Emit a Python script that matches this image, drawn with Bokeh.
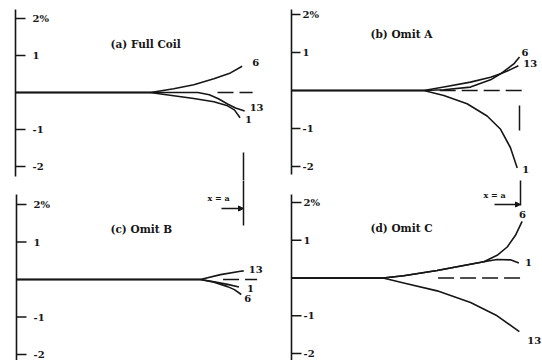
from bokeh.plotting import figure
from bokeh.layouts import column, row
from bokeh.models import Range1d, Arrow, NormalHead
from bokeh.core.properties import value
from bokeh.embed import file_html
from bokeh.resources import INLINE

# ---------------- data (x = position / a, y = error in %) ----------------
tick_values = [2, 1, -1, -2]
tick_labels = ["2%", "1", "-1", "-2"]
panel_titles = ["(a)  Full Coil", "(b)  Omit A", "(c)  Omit B", "(d)  Omit C"]
curve_names = ["1", "6", "13"]

# (a) Full Coil
a_x_1 = [0, 0.59, 0.694, 0.782, 0.870, 0.93, 0.96, 0.985]
a_y_1 = [0, 0, -0.09, -0.16, -0.25, -0.36, -0.47, -0.68]
a_x_6 = [0, 0.592, 0.694, 0.782, 0.870, 0.943, 0.994]
a_y_6 = [0, 0, 0.10, 0.21, 0.37, 0.53, 0.71]
a_x_13 = [0, 0.80, 0.85, 0.89, 0.93, 0.965, 1.005]
a_y_13 = [0, 0, -0.06, -0.17, -0.31, -0.42, -0.50]

# (b) Omit A
b_x_1 = [0, 0.58, 0.668, 0.77, 0.858, 0.917, 0.96, 0.99]
b_y_1 = [0, 0, -0.13, -0.35, -0.67, -1.02, -1.50, -2.04]
b_x_6 = [0, 0.58, 0.668, 0.785, 0.873, 0.917, 0.975, 1.0]
b_y_6 = [0, 0, 0.02, 0.09, 0.28, 0.44, 0.70, 0.88]
b_x_13 = [0, 0.58, 0.668, 0.785, 0.873, 0.917, 0.96, 0.995]
b_y_13 = [0, 0, 0.09, 0.22, 0.35, 0.44, 0.55, 0.65]

# (c) Omit B
c_x_1 = [0, 0.81, 0.87, 0.93, 0.98]
c_y_1 = [0, 0, -0.06, -0.13, -0.20]
c_x_6 = [0, 0.81, 0.87, 0.93, 0.96, 0.99]
c_y_6 = [0, 0, -0.07, -0.19, -0.27, -0.40]
c_x_13 = [0, 0.81, 0.899, 0.987, 1.001]
c_y_13 = [0, 0, 0.13, 0.22, 0.23]

# (d) Omit C
d_x_1 = [0, 0.40, 0.49, 0.636, 0.752, 0.84, 0.898, 0.956, 0.993]
d_y_1 = [0, 0, 0.06, 0.20, 0.33, 0.43, 0.49, 0.48, 0.40]
d_x_6 = [0, 0.40, 0.49, 0.636, 0.752, 0.84, 0.898, 0.942, 0.978, 1.007]
d_y_6 = [0, 0, 0.06, 0.20, 0.33, 0.43, 0.60, 0.82, 1.13, 1.50]
d_x_13 = [0, 0.40, 0.49, 0.636, 0.782, 0.898, 0.995]
d_y_13 = [0, 0, -0.13, -0.34, -0.65, -1.00, -1.42]

# dashed zero reference (start, end in x/a)
a_dash = [0.886, 1.04]
b_dash = [0.65, 1.035]
c_dash = [0.91, 1.06]
d_dash = [0.64, 1.02]

# ---------------- styling / layout ----------------
INK = "#161616"
FONT = value("DejaVu Serif")
W, H = 271, 180

panels = [
    dict(title=panel_titles[0], fig_left=0, fig_top=0, ax_x=15, xs=228, zero_y=92, ys=37,
         axis_top=9, axis_bottom=176, tick_len=10, lab_dx=17, title_px=(110, 43),
         curves=[(a_x_1, a_y_1), (a_x_6, a_y_6), (a_x_13, a_y_13)],
         lab_off=[(5, 2), (10, -4), (5, -4)], dash=a_dash),
    dict(title=panel_titles[1], fig_left=271, fig_top=0, ax_x=291, xs=228, zero_y=90, ys=38,
         axis_top=9, axis_bottom=174, tick_len=9, lab_dx=11, title_px=(370, 33),
         curves=[(b_x_1, b_y_1), (b_x_6, b_y_6), (b_x_13, b_y_13)],
         lab_off=[(5, 1), (2, -5), (5, -2)], dash=b_dash),
    dict(title=panel_titles[2], fig_left=0, fig_top=180, ax_x=16, xs=227, zero_y=279, ys=37.5,
         axis_top=194, axis_bottom=360, tick_len=10, lab_dx=17, title_px=(110, 228),
         curves=[(c_x_1, c_y_1), (c_x_6, c_y_6), (c_x_13, c_y_13)],
         lab_off=[(8, 1), (3, 4), (5, -1)], dash=c_dash),
    dict(title=panel_titles[3], fig_left=271, fig_top=180, ax_x=291, xs=229, zero_y=277.5, ys=37.8,
         axis_top=194, axis_bottom=360, tick_len=10, lab_dx=12, title_px=(370, 227),
         curves=[(d_x_1, d_y_1), (d_x_6, d_y_6), (d_x_13, d_y_13)],
         lab_off=[(6, 0), (-3, -7), (8, 9)], dash=d_dash),
]


def px_to_x(c, px):
    return (px - c["ax_x"]) / c["xs"]


def px_to_y(c, py):
    return (c["zero_y"] - py) / c["ys"]


def make_panel(c):
    xr = Range1d(px_to_x(c, c["fig_left"]), px_to_x(c, c["fig_left"] + W))
    yr = Range1d(px_to_y(c, c["fig_top"] + H), px_to_y(c, c["fig_top"]))
    p = figure(width=W, height=H, x_range=xr, y_range=yr, output_backend="svg",
               toolbar_location=None, x_axis_type=None, y_axis_type=None,
               min_border=0, outline_line_color=None, background_fill_color="white",
               border_fill_color="white")
    p.grid.visible = False

    # y axis line
    p.segment(x0=[0], y0=[px_to_y(c, c["axis_bottom"])], x1=[0], y1=[px_to_y(c, c["axis_top"])],
              line_color=INK, line_width=1.6)
    # ticks & labels
    tl = c["tick_len"] / c["xs"]
    p.segment(x0=[0] * len(tick_values), y0=tick_values, x1=[tl] * len(tick_values), y1=tick_values,
              line_color=INK, line_width=1.5)
    p.text(x=[c["lab_dx"] / c["xs"]] * len(tick_values), y=tick_values, text=tick_labels,
           text_font=FONT, text_font_size="10px", text_font_style="bold",
           text_color=INK, text_align="left", text_baseline="middle")

    # title
    tx, ty = c["title_px"]
    p.text(x=[px_to_x(c, tx)], y=[px_to_y(c, ty)], text=[c["title"]], text_font=FONT,
           text_font_size="10.5px", text_font_style="bold", text_color=INK,
           text_align="left", text_baseline="middle")

    # dashed zero continuation
    p.line(x=c["dash"], y=[0, 0], line_color=INK, line_width=1.5, line_dash="16 6")

    # curves + labels at their ends
    for (xs_, ys_), name, (dx, dy) in zip(c["curves"], curve_names, c["lab_off"]):
        p.line(x=xs_, y=ys_, line_color=INK, line_width=1.6, line_join="round")
        p.text(x=[xs_[-1]], y=[ys_[-1]], text=[name], x_offset=dx, y_offset=dy,
               text_font=FONT, text_font_size="10px", text_font_style="bold",
               text_color=INK, text_align="left", text_baseline="middle")
    return p


figs = [make_panel(c) for c in panels]
pa, pb, pc, pd = figs

# x = a markers
ca, cb, cc, cd = panels
pa.segment(x0=[1.0], y0=[px_to_y(ca, 152)], x1=[1.0], y1=[px_to_y(ca, 181)], line_color=INK, line_width=1.5)
pb.segment(x0=[1.0], y0=[px_to_y(cb, 105)], x1=[1.0], y1=[px_to_y(cb, 130)], line_color=INK, line_width=1.5)
pc.segment(x0=[1.0], y0=[px_to_y(cc, 179)], x1=[1.0], y1=[px_to_y(cc, 225)], line_color=INK, line_width=1.5)
pd.segment(x0=[1.0], y0=[px_to_y(cd, 179)], x1=[1.0], y1=[px_to_y(cd, 205)], line_color=INK, line_width=1.5)

for p, c, ypx, xstart, tpx in [(pc, cc, 208, 221, (218, 197)), (pd, cd, 204, 494, (494, 194))]:
    p.add_layout(Arrow(end=NormalHead(size=5, fill_color=INK, line_color=INK),
                       x_start=px_to_x(c, xstart), y_start=px_to_y(c, ypx),
                       x_end=1.0, y_end=px_to_y(c, ypx), line_color=INK, line_width=1.4))
    p.text(x=[px_to_x(c, tpx[0])], y=[px_to_y(c, tpx[1])], text=["x = a"], text_font=FONT,
           text_font_size="8px", text_font_style="bold", text_color=INK,
           text_align="center", text_baseline="middle")

layout = column(row(pa, pb, spacing=0), row(pc, pd, spacing=0), spacing=0)
open("out.html", "w").write(file_html(layout, INLINE))
